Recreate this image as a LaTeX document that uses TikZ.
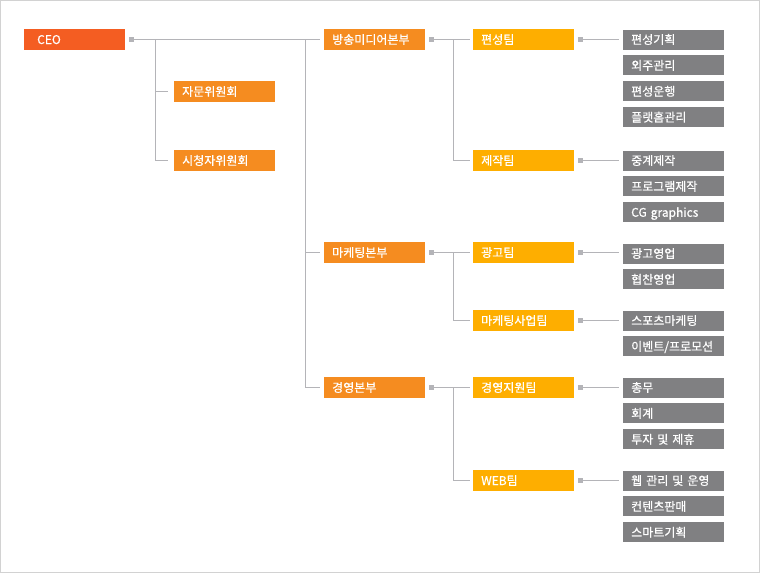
\documentclass[tikz,border=0pt]{standalone}
\usepackage{fontspec}
\setmainfont{Noto Sans CJK KR}[FakeBold=0.6]
\usepackage{tikz}
\usetikzlibrary{positioning}
\definecolor{CeoRed}{HTML}{F45D22}
\definecolor{HqOrange}{HTML}{F58C20}
\definecolor{TeamAmber}{HTML}{FEAE00}
\definecolor{TaskGray}{HTML}{808082}
\definecolor{LinkGray}{HTML}{B4B4B8}
\definecolor{FrameGray}{HTML}{D2D2D2}

\begin{document}
\begin{tikzpicture}[x=1pt,y=-1pt,
    box/.style={anchor=west,text=white,font=\fontsize{12}{14}\selectfont,text width=85pt,align=left,
        inner xsep=8pt,inner ysep=0pt,text height=10pt,text depth=1pt,minimum height=21pt},
    ceobox/.style={box,fill=CeoRed,text width=75pt,inner xsep=13pt},
    hqbox/.style={box,fill=HqOrange},
    teambox/.style={box,fill=TeamAmber},
    taskbox/.style={box,fill=TaskGray,minimum height=20pt},
    dot/.style={anchor=west,xshift=3pt,fill=LinkGray,minimum size=5.5pt,inner sep=0pt},
    link/.style={draw=LinkGray,line width=1pt}]
    \useasboundingbox (0,0) rectangle (760,573);
    \draw[FrameGray,line width=1pt] (0.5,0.5) rectangle (759.5,572.5);

    \node[ceobox] (ceo) at (24,39.5) {CEO};
    \node[hqbox] (cmt1) at (174,91.5) {자문위원회};
    \node[hqbox] (cmt2) at (174,160.5) {시청자위원회};

    \node[hqbox] (hq1) at (324,39.5) {방송미디어본부};
    \node[hqbox] (hq2) at (324,252.5) {마케팅본부};
    \node[hqbox] (hq3) at (324,387.5) {경영본부};

    \node[teambox] (team1) at (473,39.5) {편성팀};
    \node[teambox] (team2) at (473,160.5) {제작팀};
    \node[teambox] (team3) at (473,252.5) {광고팀};
    \node[teambox] (team4) at (473,320.5) {마케팅사업팀};
    \node[teambox] (team5) at (473,387.5) {경영지원팀};
    \node[teambox] (team6) at (473,480.5) {WEB팀};

    \node[taskbox] (task11) at (623,39.5) {편성기획};
    \node[taskbox,below=5.5pt of task11] (task12) {외주관리};
    \node[taskbox,below=5.5pt of task12] (task13) {편성운행};
    \node[taskbox,below=5.5pt of task13] (task14) {플랫홈관리};
    \node[taskbox] (task21) at (623,160.5) {중계제작};
    \node[taskbox,below=5.5pt of task21] (task22) {프로그램제작};
    \node[taskbox,below=5.5pt of task22] (task23) {CG graphics};
    \node[taskbox] (task31) at (623,253.5) {광고영업};
    \node[taskbox,below=5.5pt of task31] (task32) {협찬영업};
    \node[taskbox] (task41) at (623,320.5) {스포츠마케팅};
    \node[taskbox,below=5.5pt of task41] (task42) {이벤트/프로모션};
    \node[taskbox] (task51) at (623,387.5) {총무};
    \node[taskbox,below=5.5pt of task51] (task52) {회계};
    \node[taskbox,below=5.5pt of task52] (task53) {투자 및 제휴};
    \node[taskbox] (task61) at (623,480.5) {웹 관리 및 운영};
    \node[taskbox,below=5.5pt of task61] (task62) {컨텐츠판매};
    \node[taskbox,below=5.5pt of task62] (task63) {스마트기획};

    \node[dot] (ceodot) at (ceo.east) {};
    \node[dot] (hq1dot) at (hq1.east) {};
    \node[dot] (hq2dot) at (hq2.east) {};
    \node[dot] (hq3dot) at (hq3.east) {};
    \node[dot] (team1dot) at (team1.east) {};
    \node[dot] (team2dot) at (team2.east) {};
    \node[dot] (team3dot) at (team3.east) {};
    \node[dot] (team4dot) at (team4.east) {};
    \node[dot] (team5dot) at (team5.east) {};
    \node[dot] (team6dot) at (team6.east) {};

    \coordinate (cmtjoint) at (155,0);
    \coordinate (hqjoint) at (305,0);
    \coordinate (teamjoint) at (453,0);

    \draw[link] (ceodot.east) -- ([xshift=-4pt]hq1.west);
    \draw[link] (cmtjoint |- ceo.west) |- ([xshift=-6pt]cmt2.west);
    \draw[link] (cmtjoint |- cmt1.west) -- ([xshift=-6pt]cmt1.west);
    \draw[link] (hqjoint |- ceo.west) |- ([xshift=-4pt]hq3.west);
    \draw[link] (hqjoint |- hq2.west) -- ([xshift=-4pt]hq2.west);

    \draw[link] (hq1dot.east) -- ([xshift=-3pt]team1.west);
    \draw[link] (teamjoint |- hq1.west) |- ([xshift=-3pt]team2.west);
    \draw[link] (hq2dot.east) -- ([xshift=-3pt]team3.west);
    \draw[link] (teamjoint |- hq2.west) |- ([xshift=-3pt]team4.west);
    \draw[link] (hq3dot.east) -- ([xshift=-3pt]team5.west);
    \draw[link] (teamjoint |- hq3.west) |- ([xshift=-3pt]team6.west);

    \draw[link] (team1dot.east) -- ([xshift=-4pt]task11.west);
    \draw[link] (team2dot.east) -- ([xshift=-4pt]task21.west);
    \draw[link] (team3dot.east) -- ([xshift=-4pt]task31.west |- team3.west);
    \draw[link] (team4dot.east) -- ([xshift=-4pt]task41.west);
    \draw[link] (team5dot.east) -- ([xshift=-4pt]task51.west);
    \draw[link] (team6dot.east) -- ([xshift=-4pt]task61.west);
\end{tikzpicture}
\end{document}
